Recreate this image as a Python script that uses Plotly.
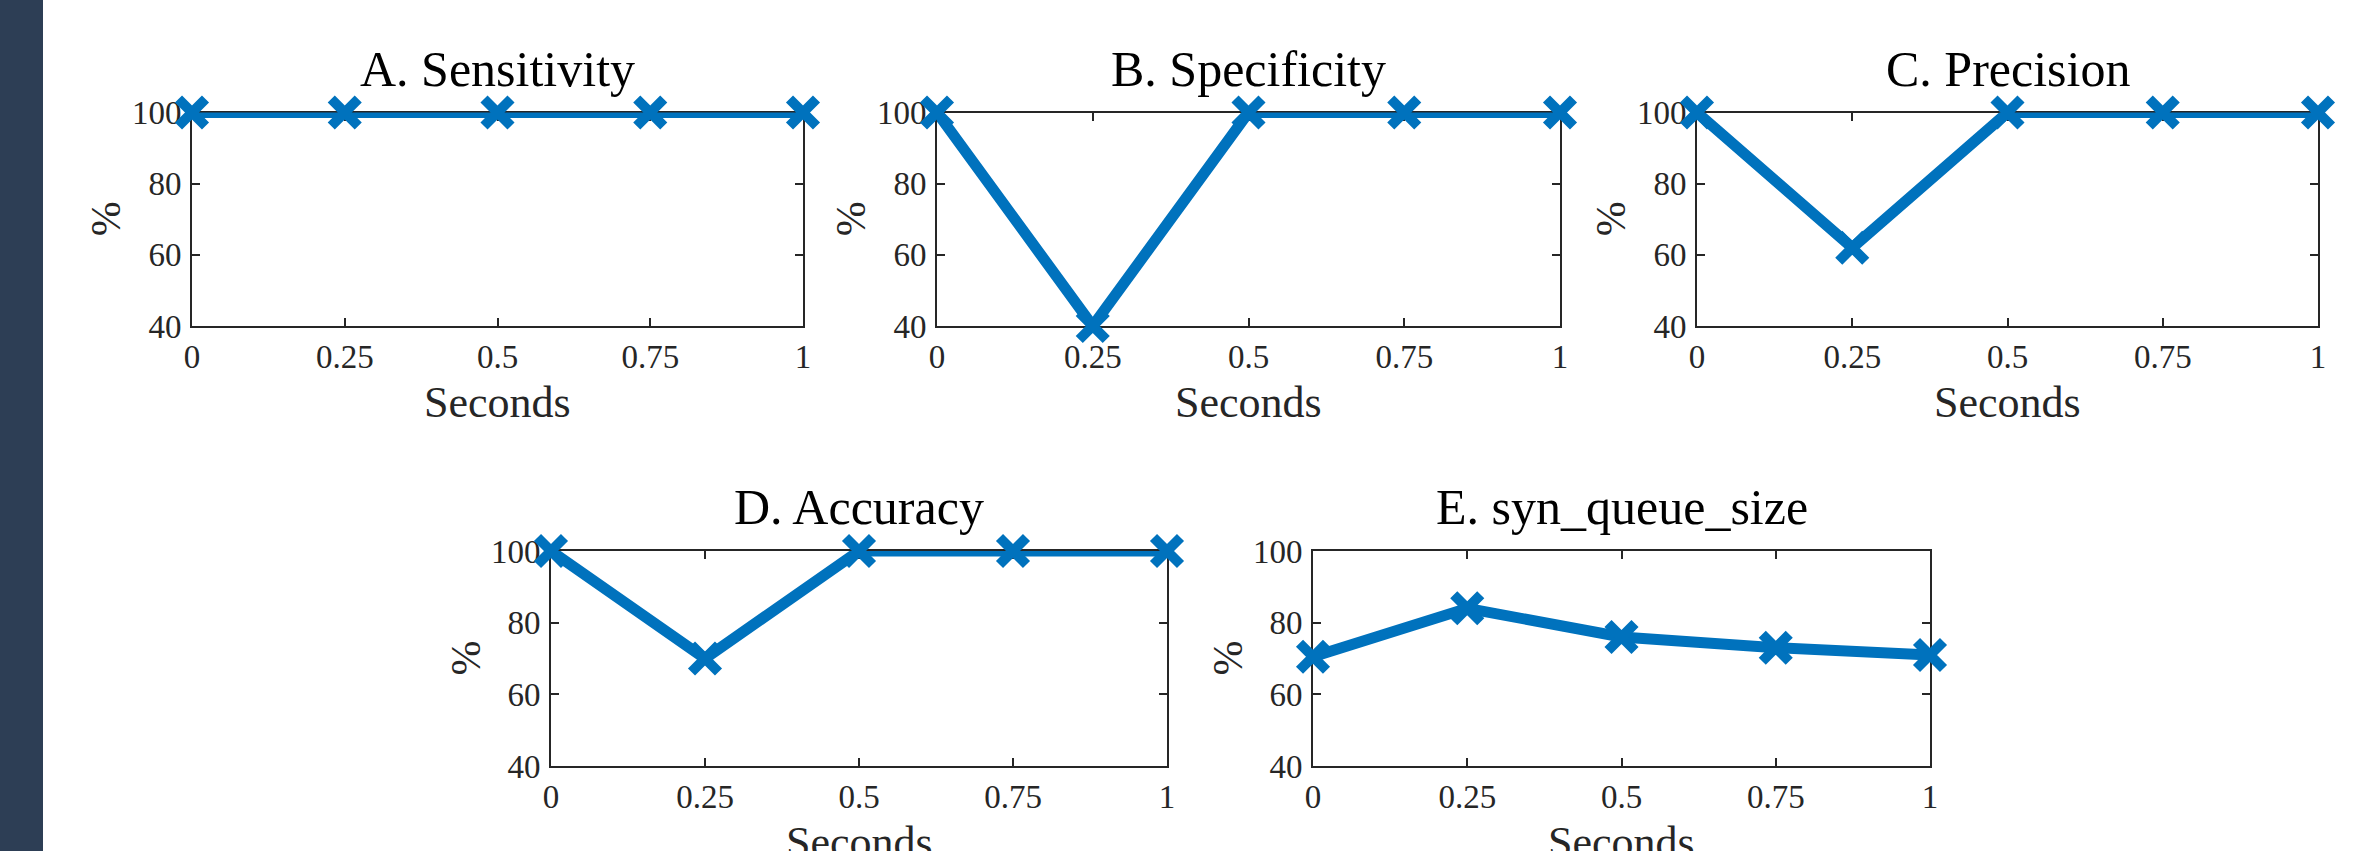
import plotly.graph_objects as go

W, H = 2353, 851

seconds = [0, 0.25, 0.5, 0.75, 1]
x_tick_labels = ["0", "0.25", "0.5", "0.75", "1"]
y_tick_vals = [40, 60, 80, 100]
y_tick_labels = ["40", "60", "80", "100"]

sensitivity = [100, 100, 100, 100, 100]
specificity = [100, 40, 100, 100, 100]
precision = [100, 62, 100, 100, 100]
accuracy = [100, 70, 100, 100, 100]
syn_queue_size = [70.5, 84, 76, 73, 71]

titles = ["A. Sensitivity", "B. Specificity", "C. Precision", "D. Accuracy", "E. syn_queue_size"]
series = [sensitivity, specificity, precision, accuracy, syn_queue_size]

# panel boxes in pixels: (left, right, top, bottom)
boxes = [
    (192, 803, 112.5, 326),
    (937, 1560, 112.5, 326),
    (1697, 2318, 112.5, 326),
    (551, 1167, 551, 766),
    (1313, 1930, 551, 766),
]

BLUE = "#0072BD"
AX = "#262626"
FONT = "Liberation Serif, Times New Roman, serif"

fig = go.Figure()
annotations = []
for i, (ys, title, (l, r, t, b)) in enumerate(zip(series, titles, boxes)):
    n = "" if i == 0 else str(i + 1)
    xd = [l / W, r / W]
    yd = [1 - b / H, 1 - t / H]
    fig.add_trace(go.Scatter(
        x=seconds, y=ys, mode="lines+markers",
        line=dict(color=BLUE, width=11),
        marker=dict(symbol="x-thin", size=27, color=BLUE, line=dict(color=BLUE, width=10)),
        cliponaxis=False, showlegend=False,
        xaxis="x" + n, yaxis="y" + n,
    ))
    axcommon = dict(showline=True, linecolor=AX, linewidth=2, mirror="ticks",
                    ticks="inside", ticklen=8, tickwidth=2, tickcolor=AX,
                    showgrid=False, zeroline=False, layer="below traces",
                    tickfont=dict(family=FONT, size=33, color=AX), automargin=False)
    fig.update_layout(**{
        "xaxis" + n: dict(domain=xd, range=[0, 1], tickvals=seconds, ticktext=x_tick_labels,
                          anchor="y" + n, ticklabelstandoff=0, **axcommon),
        "yaxis" + n: dict(domain=yd, range=[40, 100], tickvals=y_tick_vals, ticktext=y_tick_labels,
                          anchor="x" + n, ticklabelstandoff=2, **axcommon),
    })
    cx = (xd[0] + xd[1]) / 2
    annotations.append(dict(text=title, x=cx, y=yd[1], xref="paper", yref="paper",
                            xanchor="center", yanchor="bottom", yshift=14, showarrow=False,
                            font=dict(family=FONT, size=50, color="black")))
    annotations.append(dict(text="Seconds", x=cx, y=yd[0], xref="paper", yref="paper",
                            xanchor="center", yanchor="top", yshift=-50, showarrow=False,
                            font=dict(family=FONT, size=44, color=AX)))
    annotations.append(dict(text="%", x=xd[0], y=(yd[0] + yd[1]) / 2, xref="paper", yref="paper",
                            xanchor="center", yanchor="middle", xshift=-86, textangle=-90,
                            showarrow=False, font=dict(family=FONT, size=42, color=AX)))

fig.update_layout(
    width=W, height=H, margin=dict(l=0, r=0, t=0, b=0),
    paper_bgcolor="white", plot_bgcolor="white",
    annotations=annotations,
    shapes=[dict(type="rect", xref="paper", yref="paper", x0=0, x1=43 / W, y0=0, y1=1,
                 fillcolor="#2d3e55", line=dict(width=0), layer="below")],
)

fig.write_html("out.html", config={"displayModeBar": False},
               post_script="document.body.style.margin='0';document.body.style.overflow='hidden';")
